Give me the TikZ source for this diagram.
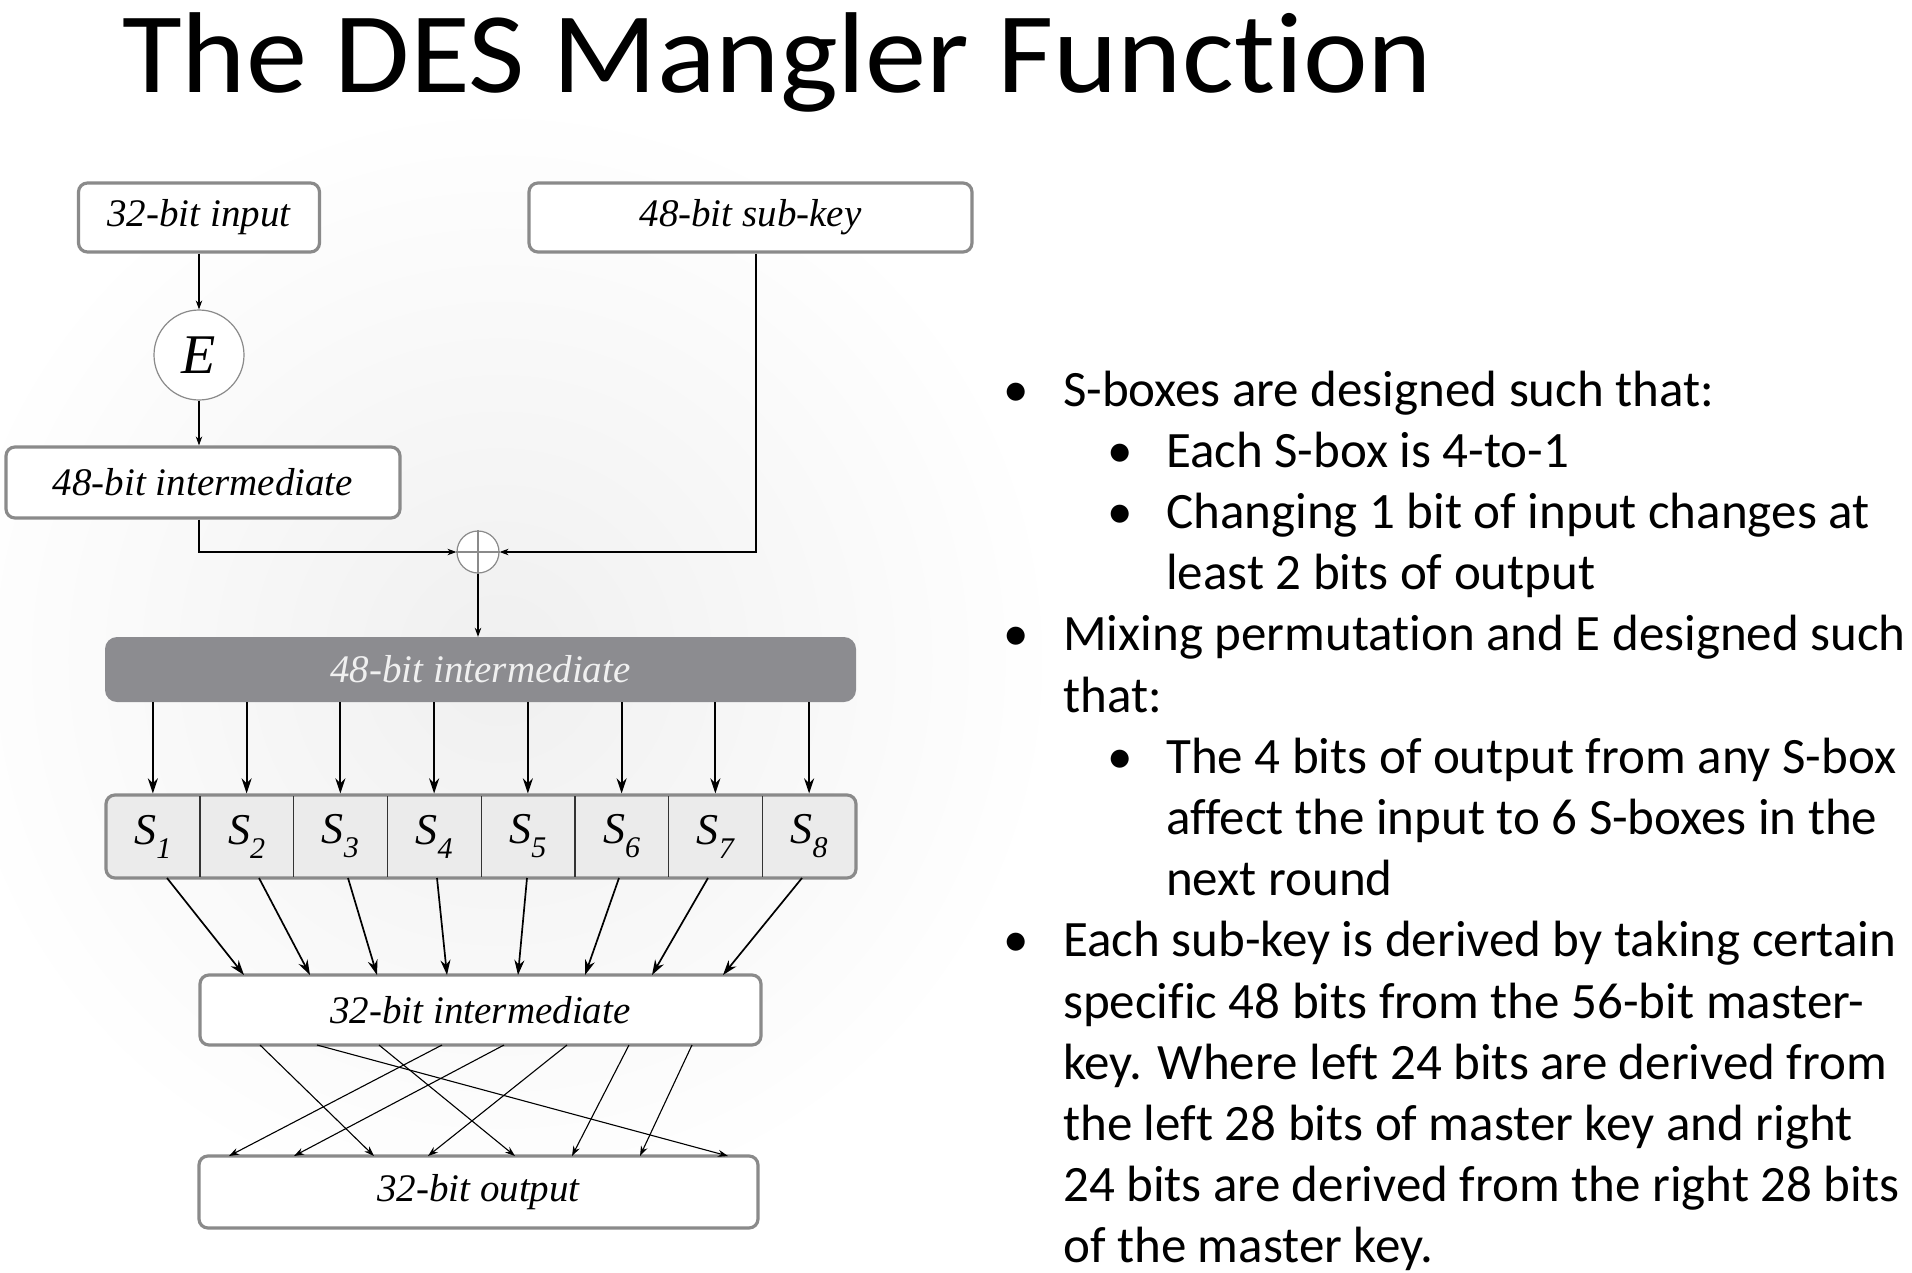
\documentclass[tikz,border=0pt]{standalone}
\usepackage{fontspec}
\setmainfont{Carlito}[Ligatures=NoCommon]
\newfontfamily\titlefont{Carlito}[Ligatures=NoCommon, FakeStretch=1.065]
\newfontfamily\diagserif{Liberation Serif}
\usetikzlibrary{arrows.meta}
\definecolor{boxgray}{HTML}{8A8A8A}
\definecolor{darkfill}{HTML}{8C8C90}
\definecolor{srowfill}{HTML}{EBEBEB}
\newcommand\dfont{\diagserif\itshape\fontsize{39}{39}\selectfont}
\newcommand\bodyfont{\fontsize{51}{51}\selectfont}
\newcommand\slab[1]{S\raisebox{-0.32em}{\fontsize{30}{30}\selectfont #1}}
\begin{document}
\begin{tikzpicture}[x=1pt,y=-1pt,
  box/.style={draw=boxgray, line width=3.2pt, rounded corners=9pt, fill=white, inner sep=0pt, font=\dfont},
  thinarr/.style={line width=1.1pt, -{Stealth[length=9pt,width=6.5pt]}},
  bigarr/.style={line width=1.9pt, -{Stealth[length=15pt,width=10pt]}},
  permarr/.style={line width=1.1pt, -{Stealth[length=10pt,width=7pt]}},
  txt/.style={anchor=base west, inner sep=0pt, font=\bodyfont},
  cell/.style={inner sep=0pt, minimum width=93.75pt, minimum height=80pt, font=\diagserif\itshape\fontsize{44}{44}\selectfont}]
\fill[white] (0,0) rectangle (1912,1272);
\useasboundingbox (0,0) rectangle (1912,1272);
\shade[inner color=black!6, outer color=white] (500,660) circle (560);

% title
\node[anchor=base west, inner sep=0pt, font=\titlefont\fontsize{115}{115}\selectfont] (title) at (122,92) {The DES Mangler Function};

% diagram boxes
\node[box, minimum width=241pt, minimum height=69pt] (in) at (199,217.5) {32-bit input};
\node[box, minimum width=443pt, minimum height=69pt] (key) at (750.5,217.5) {48-bit sub-key};
\node[circle, draw=boxgray, line width=1.2pt, fill=white, minimum size=90pt, inner sep=0pt,
      font=\diagserif\itshape\fontsize{56}{56}\selectfont] (E) at (199,355) {E};
\node[box, minimum width=394pt, minimum height=71pt] (mid48) at (203,482.5) {48-bit intermediate};
\node[circle, draw=boxgray, line width=1.2pt, fill=white, minimum size=42pt, inner sep=0pt] (xor) at (478,552) {};
\draw[boxgray, line width=1.2pt] (xor.north) -- (xor.south) (xor.west) -- (xor.east);
\node[fill=darkfill, rounded corners=12pt, minimum width=751pt, minimum height=65pt, inner sep=0pt,
      font=\dfont, text=white!94!black] (dark) at (480.5,669.5) {48-bit intermediate};
\node[draw=boxgray, line width=3.2pt, rounded corners=9pt, fill=srowfill, minimum width=750pt,
      minimum height=83pt, inner sep=0pt] (srow) at (481,836.5) {};
\foreach \i in {1,...,8} {
  \node[cell] (s\i) at ({106+93.75*(\i-0.5)},836.5) {\slab{\i}};
}
\foreach \i in {1,...,7} {
  \draw[line width=1.2pt, black!80] (s\i.north east) -- (s\i.south east);
}
\node[box, minimum width=561pt, minimum height=70pt] (mid32) at (480.5,1010) {32-bit intermediate};
\node[box, minimum width=559pt, minimum height=72pt] (out) at (478.5,1192) {32-bit output};

% top connectors
\coordinate (kx) at (756,0);
\draw[thinarr] (in.south) -- (E.north);
\draw[thinarr] (E.south) -- (E.south |- mid48.north);
\draw[thinarr] (mid48.south -| E) |- (xor.west);
\draw[thinarr] (key.south -| kx) |- (xor.east);
\draw[thinarr] (xor.south) -- (xor.south |- dark.north);

% dark box to S-boxes
\foreach \i in {1,...,8} {
  \draw[bigarr] (dark.south -| s\i) -- (srow.north -| s\i);
}

% S-boxes to 32-bit intermediate
\foreach \a/\b [count=\k] in {167/244,259/310,348/377,437/447,527/518,619/585,708/652,802/723} {
  \coordinate (a\k) at (\a,878);
  \coordinate (b\k) at (\b,975);
  \draw[bigarr, line width=1.7pt] (a\k) -- (b\k);
}

% permutation
\foreach \a/\b [count=\k] in {260/374,317/728,379/515,442/229,504/294,567/428,629/572,692/640} {
  \coordinate (p\k) at (\a,1045);
  \coordinate (q\k) at (\b,1156);
  \draw[permarr] (p\k) -- (q\k);
}

% right text
\foreach \y/\lvl/\bul/\t [count=\k] in {
  406/1/1/{S-boxes are designed such that:},
  467.2/2/1/{Each S-box is 4-to-1},
  528.4/2/1/{Changing 1 bit of input changes at},
  589.6/2/0/{least 2 bits of output},
  650.8/1/1/{Mixing permutation and E designed such},
  712/1/0/{that:},
  773.2/2/1/{The 4 bits of output from any S-box},
  834.4/2/0/{affect the input to 6 S-boxes in the},
  895.6/2/0/{next round},
  956.8/1/1/{Each sub-key is derived by taking certain},
  1018/1/0/{specific 48 bits from the 56-bit master-},
  1079.2/1/0/{key. Where left 24 bits are derived from},
  1140.4/1/0/{the left 28 bits of master key and right},
  1201.6/1/0/{24 bits are derived from the right 28 bits},
  1262.8/1/0/{of the master key.}} {
  \ifnum\lvl=1
    \node[txt] (line\k) at (1063,\y) {\t};
    \ifnum\bul=1 \node[txt] (bul\k) at (1003,\y) {•}; \fi
  \else
    \node[txt] (line\k) at (1166,\y) {\t};
    \ifnum\bul=1 \node[txt] (bul\k) at (1107,\y) {•}; \fi
  \fi
}
\end{tikzpicture}
\end{document}
